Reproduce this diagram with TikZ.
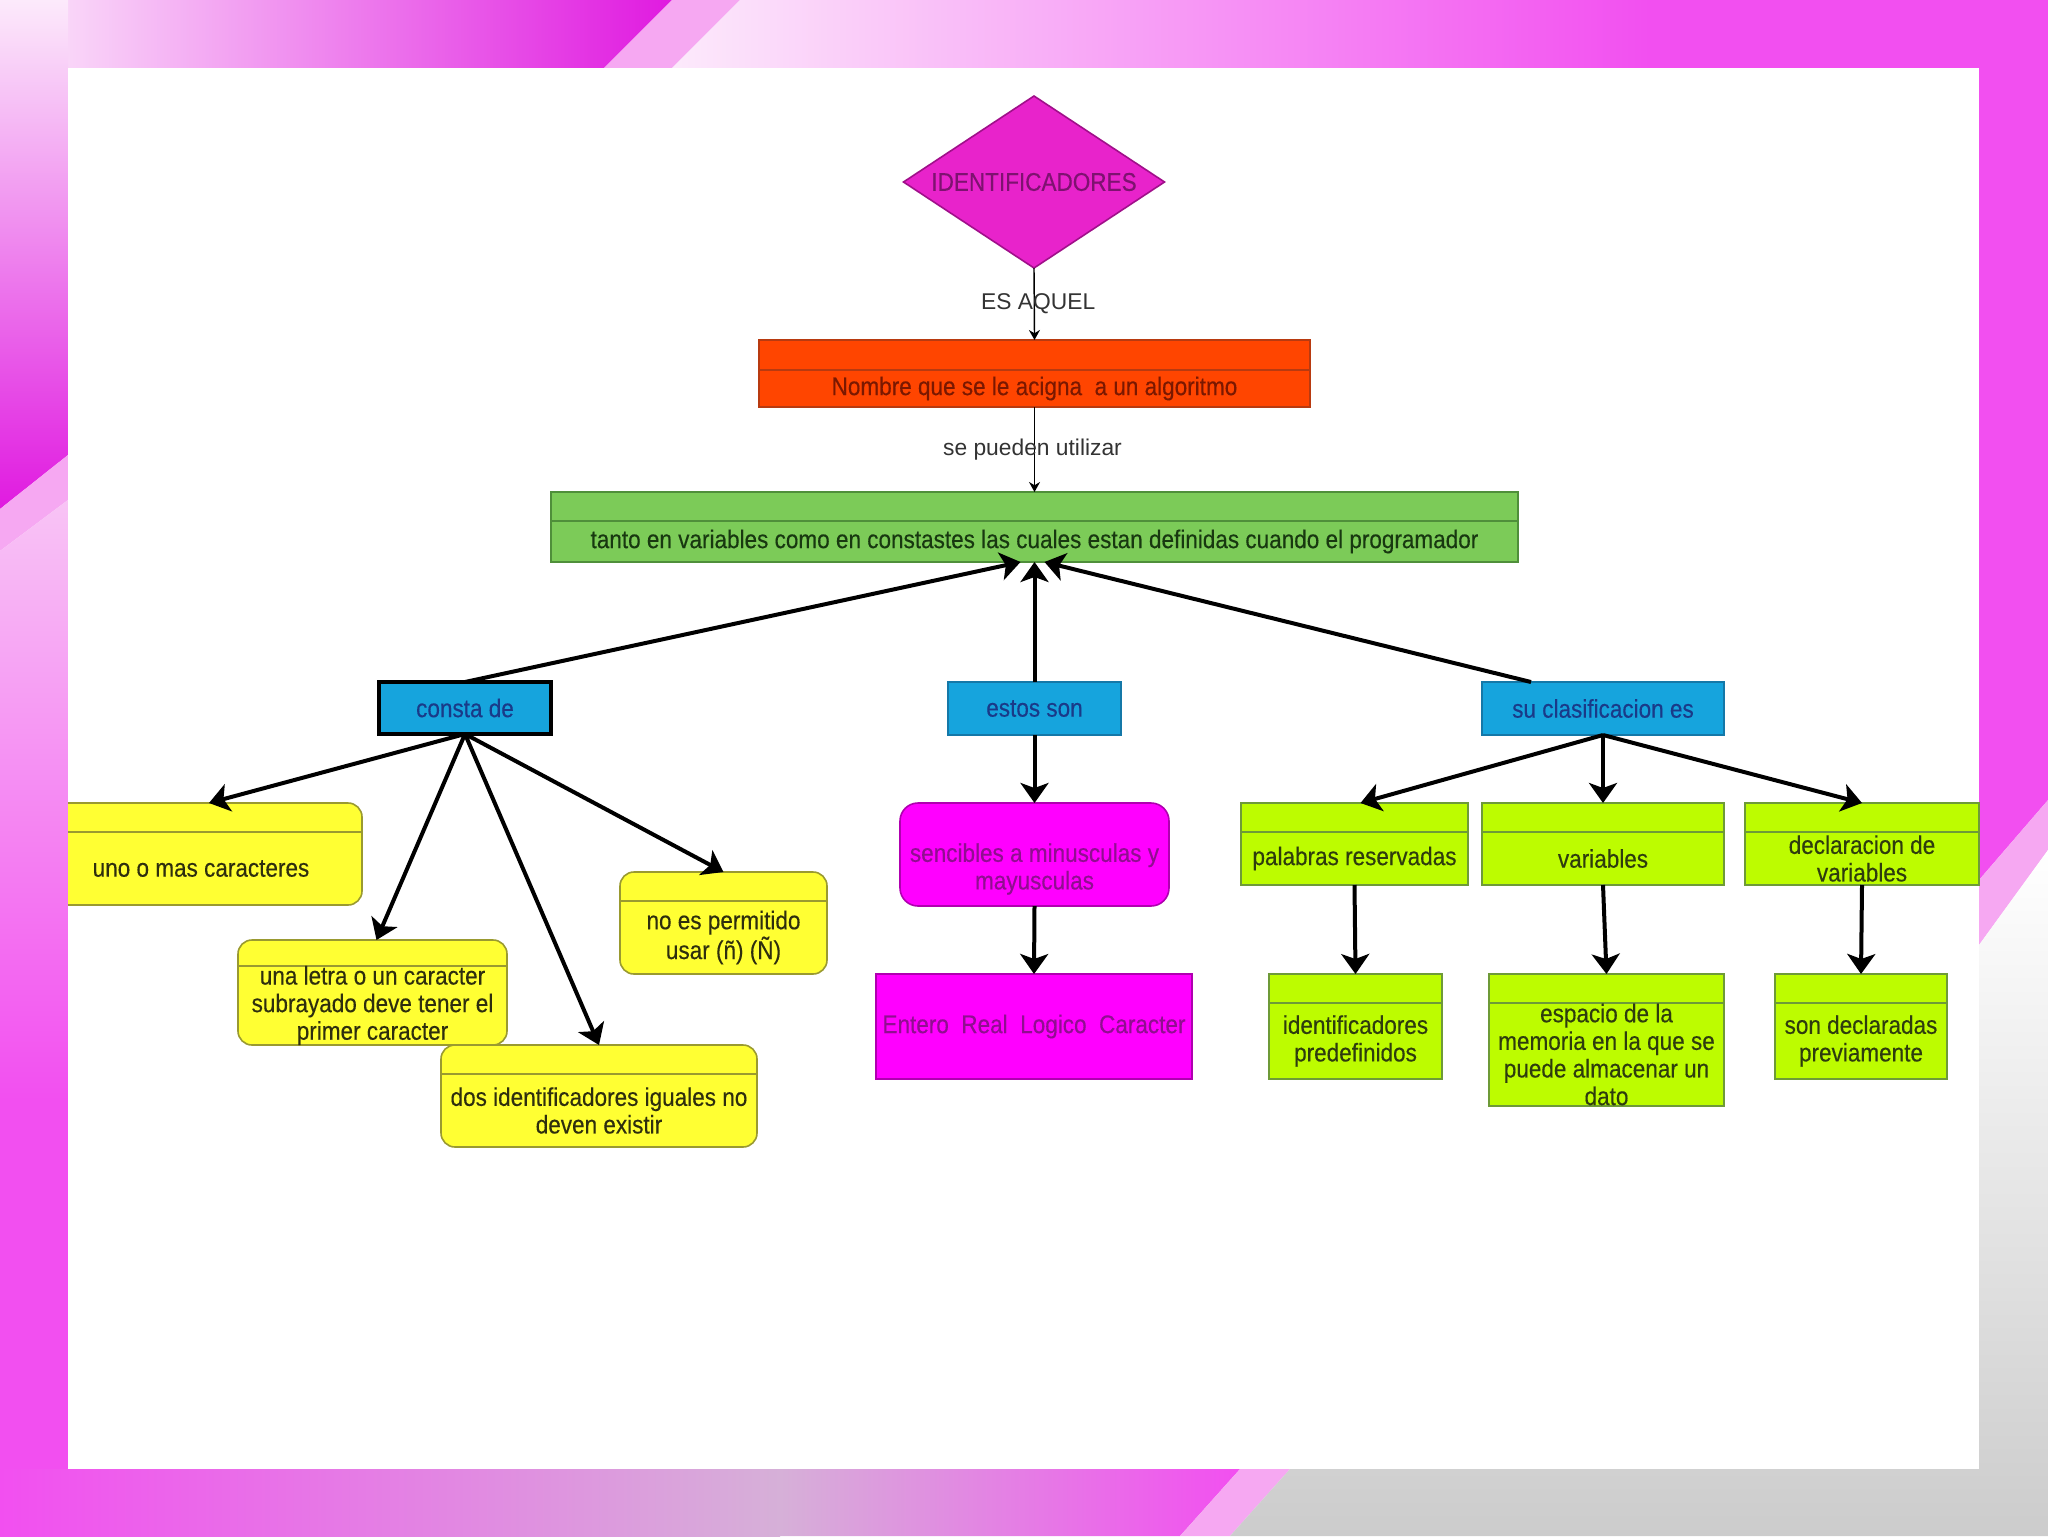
\documentclass[tikz,border=0pt]{standalone}
\usepackage{fontspec}
\setmainfont{Liberation Sans}[FakeStretch=0.88, FakeBold=0.3]
\newfontfamily\lblfont{Liberation Sans}
\usetikzlibrary{shapes.geometric,arrows.meta}
\definecolor{mag}{HTML}{F24FF0}
\definecolor{magD}{HTML}{E01AE0}
\definecolor{pinkL}{HTML}{F8C4F5}
\definecolor{pinkS}{HTML}{F6A8F2}
\definecolor{pinkW}{HTML}{FCEAFB}
\definecolor{grayP}{HTML}{D6B0D8}
\definecolor{diamF}{HTML}{E823CB}
\definecolor{diamB}{HTML}{A0108A}
\definecolor{diamT}{HTML}{7E1270}
\definecolor{orF}{HTML}{FF4500}
\definecolor{orB}{HTML}{B83A10}
\definecolor{orT}{HTML}{7A1800}
\definecolor{grF}{HTML}{7CCB58}
\definecolor{grB}{HTML}{4F8F3A}
\definecolor{grT}{HTML}{183810}
\definecolor{blF}{HTML}{16A4DD}
\definecolor{blB}{HTML}{1478A8}
\definecolor{blT}{HTML}{1A3A88}
\definecolor{yeF}{HTML}{FFFF33}
\definecolor{yeB}{HTML}{9A9A30}
\definecolor{yeT}{HTML}{2E2E0E}
\definecolor{liF}{HTML}{BDFC00}
\definecolor{liB}{HTML}{6E9A38}
\definecolor{liT}{HTML}{2E3C0E}
\definecolor{mgF}{HTML}{FF00FF}
\definecolor{mgB}{HTML}{B000B0}
\definecolor{mgT}{HTML}{900E90}
\newcommand\dbox[8]{% name, style, x1, y1, x2, y2, divider y, text
  \node[#2, minimum width={(#5-#3)*0.5pt}, minimum height={(#6-#4)*0.5pt}] (#1) at ({(#3+#5)/2},{(#4+#6)/2}) {};
  \draw[#2 div] (#3,#7) -- (#5,#7);
  \node[txt, #2 txt] (#1-t) at ({(#3+#5)/2},{(#7+#6)/2}) {#8};
}
\newcommand\cbox[7]{% name, style, x1, y1, x2, y2, text
  \node[#2, minimum width={(#5-#3)*0.5pt}, minimum height={(#6-#4)*0.5pt}] (#1) at ({(#3+#5)/2},{(#4+#6)/2}) {};
  \node[txt, #2 txt] (#1-t) at ({(#3+#5)/2},{(#4+#6)/2}) {#7};
}
\begin{document}
\begin{tikzpicture}[x=0.5pt,y=-0.5pt,
  box/.style={draw, line width=0.8pt, inner sep=0pt, outer sep=0pt},
  txt/.style={align=center, font=\fontsize{12.8}{13.8}\selectfont, inner sep=0pt},
  ybox/.style={box, fill=yeF, draw=yeB, rounded corners=7pt},
  ybox div/.style={draw=yeB, line width=0.8pt},
  ybox txt/.style={text=yeT},
  lbox/.style={box, fill=liF, draw=liB},
  lbox div/.style={draw=liB, line width=0.8pt},
  lbox txt/.style={text=liT},
  obox/.style={box, fill=orF, draw=orB},
  obox div/.style={draw=orB, line width=0.8pt},
  obox txt/.style={text=orT},
  gbox/.style={box, fill=grF, draw=grB},
  gbox div/.style={draw=grB, line width=0.8pt},
  gbox txt/.style={text=grT},
  bbox/.style={box, fill=blF, draw=blB},
  bbox txt/.style={text=blT},
  bkbox/.style={box, fill=blF, draw=black, line width=1.6pt},
  bkbox txt/.style={text=blT},
  mbox/.style={box, fill=mgF, draw=mgB},
  mbox txt/.style={text=mgT},
  mrbox/.style={box, fill=mgF, draw=mgB, rounded corners=9pt},
  mrbox txt/.style={text=mgT},
  bigarrow/.style={line width=2pt, -{Stealth[length=10pt,width=14pt,inset=2.5pt]}},
  thinarrow/.style={line width=0.7pt, -{Stealth[length=5pt,width=5.5pt]}},
  lbl/.style={font=\lblfont\fontsize{11.4}{13}\selectfont, text=black!80, inner sep=0pt}]
\useasboundingbox (0,0) rectangle (2048,1536);
% ---- frame ----
\fill[white] (0,0) rectangle (2048,1536);
% top-left corner piece
\shade[left color=pinkW, right color=magD] (0,0) -- (672,0) -- (604,68) -- (0,68) -- cycle;
\shade[top color=pinkW, bottom color=magD] (0,0) -- (68,0) -- (68,455) -- (0,509) -- cycle;
\fill[pinkS] (672,0) -- (740,0) -- (672,68) -- (604,68) -- cycle;
\fill[pinkS] (0,509) -- (68,455) -- (68,500) -- (0,551) -- cycle;
% top band right part and right strip
\shade[left color=pinkW, right color=mag] (740,0) -- (1650,0) -- (1650,68) -- (672,68) -- cycle;
\fill[mag] (1650,0) rectangle (2048,68);
\fill[mag] (1979,0) -- (2048,0) -- (2048,800) -- (1979,880) -- cycle;
\fill[pinkS] (2048,800) -- (2048,850) -- (1979,945) -- (1979,880) -- cycle;
% left strip lower part
\shade[top color=pinkL, bottom color=mag] (0,551) -- (68,500) -- (68,1100) -- (0,1100) -- cycle;
\fill[mag] (0,1099) rectangle (68,1536);
% bottom band
\shade[left color=mag, right color=grayP] (0,1469) rectangle (780,1536);
\shade[left color=grayP, right color=mag] (780,1469) -- (1240,1469) -- (1180,1536) -- (780,1536) -- cycle;
\fill[pinkS] (1240,1469) -- (1290,1469) -- (1230,1536) -- (1180,1536) -- cycle;
% bottom-right grey area
\shade[top color=white, bottom color=gray!40] (1290,1469) -- (1979,1469) -- (1979,945) -- (2048,850) -- (2048,1536) -- (1230,1536) -- cycle;
% ---- panel ----
\fill[white] (68,68) rectangle (1979,1469);
% ---- nodes ----
\node[diamond, draw=diamB, fill=diamF, line width=0.8pt, inner sep=0pt, outer sep=0pt,
  minimum width=130.5pt, minimum height=86pt] (diam) at (1034,182) {};
\node[txt, text=diamT] (diam-t) at (1034,182) {IDENTIFICADORES};
\dbox{orange}{obox}{759}{340}{1310}{407}{370}{Nombre que se le acigna \ a un algoritmo}
\dbox{green}{gbox}{551}{492}{1518}{562}{521}{tanto en variables como en constastes las cuales estan definidas cuando el programador}
\cbox{consta}{bkbox}{379}{682}{551}{734}{consta de}
\cbox{estos}{bbox}{948}{682}{1121}{735}{estos son}
\cbox{su}{bbox}{1482}{682}{1724}{735}{su clasificacion es}
\dbox{uno}{ybox}{40}{803}{362}{905}{832}{uno o mas caracteres}
\dbox{una}{ybox}{238}{940}{507}{1045}{966}{una letra o un caracter\\subrayado deve tener el\\primer caracter}
\dbox{dos}{ybox}{441}{1045}{757}{1147}{1074}{dos identificadores iguales no\\deven existir}
\dbox{noes}{ybox}{620}{872}{827}{974}{901}{no es permitido\\usar (ñ) (Ñ)}
\node[mrbox, minimum width=134.5pt, minimum height=51.5pt] (sen) at (1034.5,854.5) {};
\node[txt, mrbox txt] (sen-t) at (1034.5,869) {sencibles a minusculas y\\mayusculas};
\cbox{ent}{mbox}{876}{974}{1192}{1079}{Entero \ Real \ Logico \ Caracter}
\dbox{pal}{lbox}{1241}{803}{1468}{885}{832}{palabras reservadas}
\dbox{var}{lbox}{1482}{803}{1724}{885}{832}{variables}
\dbox{dec}{lbox}{1745}{803}{1979}{885}{832}{declaracion de\\variables}
\dbox{idp}{lbox}{1269}{974}{1442}{1079}{1003}{identificadores\\predefinidos}
\dbox{esp}{lbox}{1489}{974}{1724}{1106}{1003}{espacio de la\\memoria en la que se\\puede almacenar un\\dato}
\dbox{son}{lbox}{1775}{974}{1947}{1079}{1003}{son declaradas\\previamente}
% ---- connectors ----
\draw[thinarrow] (diam.south) -- node[lbl, xshift=2pt] (l1) {ES AQUEL} (orange.north);
\draw[thinarrow] (orange.south) -- node[lbl, xshift=-1pt] (l2) {se pueden utilizar} (green.north);
\draw[bigarrow] (consta.north) -- ([xshift=-7pt]green.south);
\draw[bigarrow] (estos.north) -- (green.south);
\draw[bigarrow] ([xshift=-36pt]su.north) -- ([xshift=5pt]green.south);
\draw[bigarrow] (consta.south) -- ([xshift=4pt]uno.north);
\draw[bigarrow] (consta.south) -- ([xshift=2pt]una.north);
\draw[bigarrow] (consta.south) -- (dos.north);
\draw[bigarrow] (consta.south) -- (noes.north);
\draw[bigarrow] (estos.south) -- (sen.north);
\draw[bigarrow] (sen.south) -- (ent.north);
\draw[bigarrow] (su.south) -- ([xshift=3pt]pal.north);
\draw[bigarrow] (su.south) -- (var.north);
\draw[bigarrow] (su.south) -- (dec.north);
\draw[bigarrow] (pal.south) -- (idp.north);
\draw[bigarrow] (var.south) -- (esp.north);
\draw[bigarrow] (dec.south) -- (son.north);
% ---- frame strip over the clipped box ----
\begin{scope}
\clip (0,700) rectangle (68,1000);
\shade[top color=pinkL, bottom color=mag] (0,551) -- (68,500) -- (68,1100) -- (0,1100) -- cycle;
\end{scope}
\end{tikzpicture}
\end{document}
